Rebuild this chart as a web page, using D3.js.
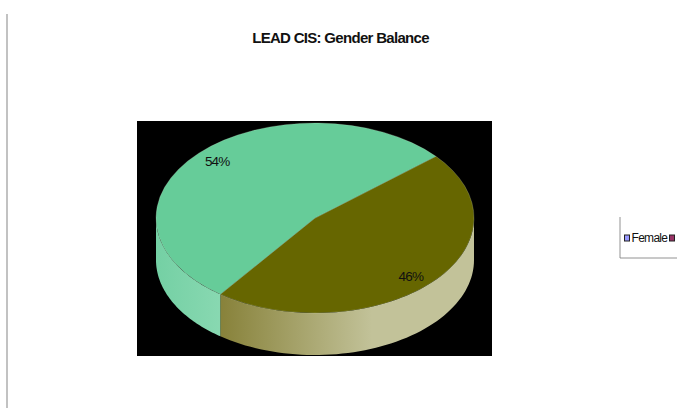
<!DOCTYPE html>
<html>
<head>
<meta charset="utf-8">
<script src="https://cdnjs.cloudflare.com/ajax/libs/d3/7.8.5/d3.min.js"></script>
<style>
  html, body { margin: 0; padding: 0; background: #fff; }
  svg { display: block; }
  text { font-family: "Liberation Sans", Arial, sans-serif; fill: #111; }
</style>
</head>
<body>
<div id="chart"></div>
<script>
// Data
var categories = ["Female", "Male"];
var values = [46.4, 53.6];
var labels = ["46%", "54%"];
var legendLabels = ["Female"];

var width = 691, height = 408;
var cx = 315, cy = 218, rx = 159, ry = 95, depth = 42;
var startDeg = 49.5;

var svg = d3.select("#chart").append("svg")
    .attr("width", width)
    .attr("height", height);

// Gradients for the side wall
var defs = svg.append("defs");
var oliveGrad = defs.append("linearGradient")
    .attr("id", "oliveSide")
    .attr("gradientUnits", "userSpaceOnUse")
    .attr("x1", 219).attr("x2", 372).attr("y1", 0).attr("y2", 0);
oliveGrad.append("stop").attr("offset", "0%").attr("stop-color", "#878139");
oliveGrad.append("stop").attr("offset", "100%").attr("stop-color", "#c2c299");
var greenGrad = defs.append("linearGradient")
    .attr("id", "greenSide")
    .attr("gradientUnits", "userSpaceOnUse")
    .attr("x1", 156).attr("x2", 219).attr("y1", 0).attr("y2", 0);
greenGrad.append("stop").attr("offset", "0%").attr("stop-color", "#74d0a4");
greenGrad.append("stop").attr("offset", "100%").attr("stop-color", "#88d8b1");

var topColor = d3.scaleOrdinal().domain(categories).range(["#666600", "#66cc99"]);
var sideColor = d3.scaleOrdinal().domain(categories).range(["url(#oliveSide)", "url(#greenSide)"]);

// Page rule on the left
svg.append("line")
    .attr("x1", 7).attr("x2", 7).attr("y1", 14).attr("y2", height)
    .attr("stroke", "#999").attr("stroke-width", 1.2);

// Title
svg.append("text")
    .attr("x", 340.5).attr("y", 43)
    .attr("text-anchor", "middle")
    .attr("font-size", 15)
    .attr("font-weight", "bold")
    .attr("letter-spacing", -0.7)
    .text("LEAD CIS: Gender Balance");

// Plot background
svg.append("rect")
    .attr("x", 137).attr("y", 121)
    .attr("width", 355).attr("height", 235)
    .attr("fill", "#000");

var pie = d3.pie().sort(null)
    .startAngle(startDeg * Math.PI / 180)
    .endAngle((startDeg + 360) * Math.PI / 180);
var arcs = pie(values);

// Side wall: the part of each slice that faces the viewer
function sidePath(d) {
  var a0 = Math.max(d.startAngle, Math.PI / 2),
      a1 = Math.min(d.endAngle, 3 * Math.PI / 2);
  if (a1 <= a0) return null;
  var steps = d3.range(0, 61).map(function(i) { return a0 + (a1 - a0) * i / 60; });
  var px = function(a) { return cx + rx * Math.sin(a); };
  var py = function(a) { return cy - ry * Math.cos(a); };
  var upper = steps.map(function(a) { return [px(a), py(a)]; });
  var lower = steps.slice().reverse().map(function(a) { return [px(a), py(a) + depth]; });
  return d3.line()(upper.concat(lower)) + "Z";
}

svg.selectAll(".side")
  .data(arcs)
  .enter()
  .append("path")
    .attr("class", "side")
    .attr("d", sidePath)
    .attr("fill", function(d, i) { return sideColor(categories[i]); });

// Top face
var plate = svg.append("g")
    .attr("transform", "translate(" + cx + "," + cy + ") scale(1," + (ry / rx) + ")");
var arc = d3.arc().innerRadius(0).outerRadius(rx);
plate.selectAll(".slice")
  .data(arcs)
  .enter()
  .append("path")
    .attr("class", "slice")
    .attr("d", arc)
    .attr("fill", function(d, i) { return topColor(categories[i]); })
    .attr("stroke", "#d8e8d0")
    .attr("stroke-opacity", 0.45)
    .attr("stroke-width", 0.6);

// Percent labels, nudged to where they sit in the picture
var labelArc = d3.arc().innerRadius(rx * 0.85).outerRadius(rx * 0.85);
svg.selectAll(".pct")
  .data(arcs)
  .enter()
  .append("text")
    .attr("class", "pct")
    .attr("x", function(d, i) { return cx + labelArc.centroid(d)[0] + (i === 0 ? -3 : 1); })
    .attr("y", function(d, i) { return cy + labelArc.centroid(d)[1] * ry / rx + (i === 0 ? 7.5 : 3.5); })
    .attr("text-anchor", "middle")
    .attr("font-size", 13.5)
    .attr("letter-spacing", -0.8)
    .text(function(d, i) { return labels[i]; });

// Legend
var legendX = 620, legendTop = 217, legendBottom = 258, legendRight = 677;
svg.append("path")
    .attr("d", "M" + legendX + "," + legendTop + "V" + legendBottom + "H" + legendRight)
    .attr("fill", "none")
    .attr("stroke", "#777")
    .attr("stroke-width", 0.8);
var swatchX = d3.scaleOrdinal().domain(categories).range([624.5, 669.5]);
var swatchFill = d3.scaleOrdinal().domain(categories).range(["#9999ff", "#993366"]);
svg.selectAll(".swatch")
  .data(categories)
  .enter()
  .append("rect")
    .attr("class", "swatch")
    .attr("x", function(d) { return swatchX(d); })
    .attr("y", 235)
    .attr("width", 5).attr("height", 6)
    .attr("fill", function(d) { return swatchFill(d); })
    .attr("stroke", "#222")
    .attr("stroke-width", 1);
svg.append("text")
    .attr("x", 631.5).attr("y", 242)
    .attr("font-size", 12)
    .attr("letter-spacing", -0.7)
    .text(legendLabels[0]);
</script>
</body>
</html>
